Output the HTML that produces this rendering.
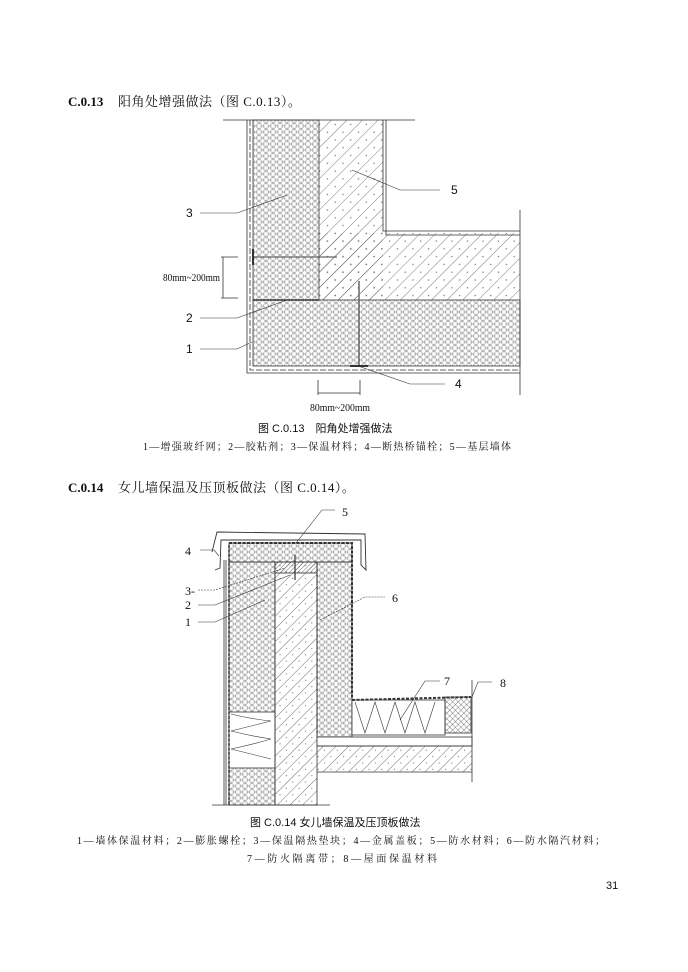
<!DOCTYPE html>
<html><head><meta charset="utf-8"><style>
html,body{margin:0;padding:0;background:#fff}
svg{display:block}
text{font-family:"Liberation Serif","Noto Serif CJK SC",serif;fill:#111}
.s{font-family:"Liberation Sans","Noto Sans CJK SC",sans-serif}
</style></head><body>
<svg width="688" height="972" viewBox="0 0 688 972" xmlns="http://www.w3.org/2000/svg">
<defs>
<pattern id="hex" width="7" height="6" patternUnits="userSpaceOnUse">
<circle cx="3.5" cy="3" r="2.9" fill="none" stroke="#999" stroke-width="0.5"/>
<circle cx="0" cy="0" r="2.9" fill="none" stroke="#999" stroke-width="0.5"/>
<circle cx="7" cy="0" r="2.9" fill="none" stroke="#999" stroke-width="0.5"/>
<circle cx="0" cy="6" r="2.9" fill="none" stroke="#999" stroke-width="0.5"/>
<circle cx="7" cy="6" r="2.9" fill="none" stroke="#999" stroke-width="0.5"/>
</pattern>
<pattern id="hat" width="11" height="11" patternUnits="userSpaceOnUse" patternTransform="rotate(45)">
<line x1="0" y1="0" x2="0" y2="11" stroke="#444" stroke-width="0.7"/>
<circle cx="6" cy="5" r="0.7" fill="#777"/>
</pattern>
<pattern id="hat2" width="9" height="9" patternUnits="userSpaceOnUse" patternTransform="rotate(45)">
<line x1="0" y1="0" x2="0" y2="9" stroke="#333" stroke-width="0.7"/>
<circle cx="4" cy="4" r="0.6" fill="#777"/>
</pattern>
<pattern id="cross" width="4" height="4" patternUnits="userSpaceOnUse" patternTransform="rotate(45)">
<line x1="0" y1="0" x2="0" y2="4" stroke="#333" stroke-width="0.6"/>
<line x1="0" y1="0" x2="4" y2="0" stroke="#333" stroke-width="0.6"/>
</pattern>
<pattern id="dense" width="3" height="3" patternUnits="userSpaceOnUse" patternTransform="rotate(45)">
<line x1="0" y1="0" x2="0" y2="3" stroke="#333" stroke-width="0.7"/>
</pattern>
</defs>

<text x="68" y="106" font-size="13" font-weight="bold">C.0.13</text>
<text x="118" y="106" font-size="13" letter-spacing="0.5">阳角处增强做法（图 C.0.13）。</text>

<!-- Figure C.0.13 -->
<g stroke="#333" stroke-width="0.8" fill="none">
<line x1="223" y1="120" x2="415" y2="120"/>
<rect x="319" y="120" width="64" height="180" fill="url(#hat)" stroke="none"/>
<rect x="319" y="233" width="201" height="67" fill="url(#hat)" stroke="none"/>
<rect x="253" y="120" width="66" height="180" fill="url(#hex)"/>
<rect x="253" y="300" width="267" height="66" fill="url(#hex)"/>
<polyline points="383,120 383,231 520,231"/>
<polyline points="386,120 386,235 520,235"/>
<polyline points="247,120 247,373 520,373"/>
<polyline points="250,120 250,370 520,370" stroke-dasharray="6,2"/>
<line x1="520" y1="210" x2="520" y2="395"/>
<line x1="253" y1="257" x2="337" y2="257" stroke-width="1.2" stroke="#666"/>
<line x1="253" y1="249" x2="253" y2="265" stroke-width="2"/>
<line x1="359" y1="281" x2="359" y2="366" stroke-width="1.5" stroke="#666"/>
<line x1="350" y1="366" x2="368" y2="366" stroke-width="2"/>
<line x1="253" y1="300" x2="319" y2="300" stroke-width="1.6"/>
<!-- dims -->
<line x1="223" y1="257" x2="223" y2="298"/>
<line x1="221" y1="257" x2="238" y2="257"/>
<line x1="221" y1="298" x2="238" y2="298"/>
<line x1="318" y1="380" x2="318" y2="395"/>
<line x1="360" y1="380" x2="360" y2="395"/>
<line x1="318" y1="393" x2="360" y2="393"/>
<!-- leaders -->
<polyline points="352,170 400,190 440,190" stroke-width="0.6"/>
<polyline points="200,213 237,213 287,195" stroke-width="0.6"/>
<polyline points="200,318 237,318 287,300" stroke-width="0.6"/>
<polyline points="200,349 237,349 252,342" stroke-width="0.6"/>
<polyline points="358,366 410,384 445,384" stroke-width="0.6"/>
</g>
<text x="163" y="281" font-size="10" textLength="57" lengthAdjust="spacingAndGlyphs">80mm~200mm</text>
<text x="310" y="411" font-size="10" textLength="60" lengthAdjust="spacingAndGlyphs">80mm~200mm</text>
<g font-size="12">
<text x="451" y="194" class="s">5</text>
<text x="186" y="217" class="s">3</text>
<text x="186" y="322" class="s">2</text>
<text x="186" y="353" class="s">1</text>
<text x="455" y="388" class="s">4</text>
</g>
<text x="258" y="432" font-size="11" class="s">图 C.0.13　阳角处增强做法</text>
<text x="143" y="450" font-size="10" textLength="368" lengthAdjust="spacing">1—增强玻纤网；2—胶粘剂；3—保温材料；4—断热桥锚栓；5—基层墙体</text>

<text x="68" y="492" font-size="13" font-weight="bold">C.0.14</text>
<text x="118" y="492" font-size="13" letter-spacing="0.5">女儿墙保温及压顶板做法（图 C.0.14）。</text>

<!-- Figure C.0.14 -->
<g stroke="#333" stroke-width="0.8" fill="none">
<rect x="229" y="543" width="123" height="19" fill="url(#hex)"/>
<rect x="229" y="562" width="46" height="243" fill="url(#hex)"/>
<rect x="317" y="562" width="35" height="175" fill="url(#hex)"/>
<rect x="229" y="712" width="46" height="56" fill="#fff"/>
<path d="M231 714 q 20 5 40 7 q -20 5 -40 10 q 20 5 40 8 q -20 6 -40 10 q 20 5 40 10" stroke-width="0.6"/>
<rect x="275" y="562" width="42" height="243" fill="url(#hat2)"/>
<rect x="275" y="562" width="42" height="11" fill="url(#dense)"/>
<rect x="317" y="746" width="155" height="26" fill="url(#hat2)" stroke="none"/>
<line x1="317" y1="772" x2="472" y2="772"/>
<rect x="317" y="737" width="155" height="9" fill="#fff"/>
<line x1="317" y1="746" x2="472" y2="746"/>
<rect x="352" y="700" width="93" height="35" fill="#fff"/>
<path d="M355 702 l10 31 l10 -31 l10 31 l10 -31 l10 31 l10 -31 l10 31 l10 -31" stroke-width="0.6"/>
<rect x="445" y="697" width="26" height="36" fill="url(#cross)"/>
<path d="M352 700 L471 697" stroke-dasharray="3,1.5" stroke-width="2"/>
<path d="M229 543 L352 543 L352 698" stroke-dasharray="3,1.5" stroke-width="2"/>
<path d="M229 545 L229 805" stroke-dasharray="3,1.5" stroke-width="1.5"/>
<line x1="224" y1="560" x2="224" y2="805"/>
<line x1="226" y1="560" x2="226" y2="805"/>
<path d="M212 552 L217 532 L365 534 L366 570 L361 565 L361 540 L221 540 L220 568 L215 570" stroke-width="0.9"/>
<line x1="317" y1="573" x2="317" y2="737" stroke-dasharray="3,2"/>
<line x1="472" y1="680" x2="472" y2="782"/>
<line x1="212" y1="805" x2="330" y2="805"/>
<line x1="295" y1="555" x2="295" y2="580" stroke-width="1.2"/>
<!-- leaders -->
<polyline points="296,543 322,510 335,510" stroke-width="0.6"/>
<polyline points="200,550 214,550 219,556" stroke-width="0.6"/>
<polyline points="198,590 215,590 285,568" stroke-width="0.6" stroke-dasharray="2,1"/>
<polyline points="198,605 215,605 290,575" stroke-width="0.6"/>
<polyline points="198,622 215,622 265,600" stroke-width="0.6"/>
<polyline points="320,620 365,597 385,597" stroke-width="0.6" stroke-dasharray="2,1"/>
<polyline points="400,720 425,681 440,681" stroke-width="0.6"/>
<polyline points="472,697 478,682 492,682" stroke-width="0.6"/>
</g>
<g font-size="12">
<text x="342" y="516">5</text>
<text x="185" y="555">4</text>
<text x="185" y="595">3-</text>
<text x="185" y="609">2</text>
<text x="185" y="626">1</text>
<text x="392" y="602">6</text>
<text x="444" y="685">7</text>
<text x="500" y="687">8</text>
</g>
<text x="250" y="826" font-size="11" class="s">图 C.0.14 女儿墙保温及压顶板做法</text>
<text x="77" y="844" font-size="10" textLength="528" lengthAdjust="spacing">1—墙体保温材料；2—膨胀螺栓；3—保温隔热垫块；4—金属盖板；5—防水材料；6—防水隔汽材料；</text>
<text x="247" y="862" font-size="10" textLength="190" lengthAdjust="spacing">7—防火隔离带；8—屋面保温材料</text>
<text x="606" y="889" font-size="11" class="s">31</text>
</svg>
</body></html>
